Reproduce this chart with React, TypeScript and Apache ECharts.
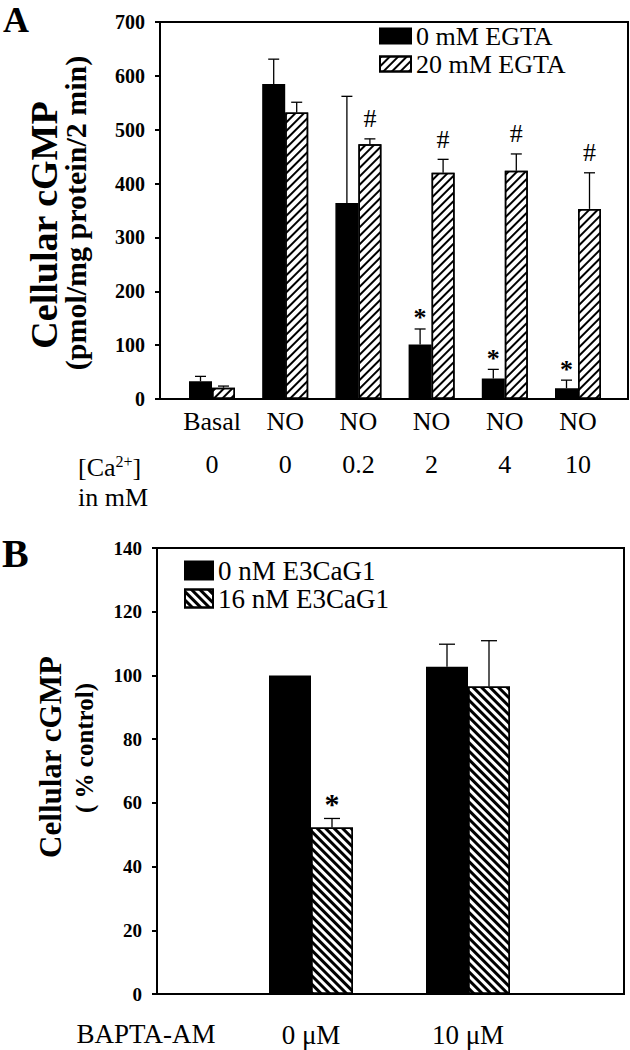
import React, { useEffect, useRef } from "react";
import * as echarts from "echarts";

// ---------- Panel A data ----------
const catsA = ["Basal", "NO", "NO", "NO", "NO", "NO"];
const caA = ["0", "0", "0.2", "2", "4", "10"];
const nameA0 = "0 mM EGTA";
const nameA1 = "20 mM EGTA";
const egta0 = [33, 585, 364, 101, 38, 20];
const egta0Err = [42, 631, 562, 130, 55, 35];
const egta0Mark = ["", "", "", "*", "*", "*"];
const egta20 = [21, 532, 473, 420, 424, 353];
const egta20Err = [24, 551, 483, 445, 455, 420];
const egta20Mark = ["", "", "#", "#", "#", "#"];
const yMinA = 0;
const yMaxA = 700;
const yStepA = 100;

// ---------- Panel B data ----------
const catsB = ["0 μM", "10 μM"];
const nameB0 = "0 nM E3CaG1";
const nameB1 = "16 nM E3CaG1";
const e3cag0 = [100, 102.7];
const e3cag0Err: (number | null)[] = [null, 109.8];
const e3cag0Mark = ["", ""];
const e3cag16 = [52.3, 96.5];
const e3cag16Err: (number | null)[] = [55.1, 110.9];
const e3cag16Mark = ["*", ""];
const yMinB = 0;
const yMaxB = 140;
const yStepB = 20;

const FONT = "'Liberation Serif', 'Times New Roman', serif";

function errSeries(
  values: number[],
  errs: (number | null)[],
  marks: string[],
  offset: number,
  cap: number,
  xAxisIndex: number,
  yAxisIndex: number,
  starFont: string,
  markGapHash: number,
  markGapStar: number
) {
  return {
    type: "custom",
    coordinateSystem: "cartesian2d",
    xAxisIndex,
    yAxisIndex,
    clip: false,
    z: 5,
    silent: true,
    data: values.map((v, i) => [i, v]),
    encode: { x: 0, y: 1 },
    renderItem: (params: any, api: any) => {
      const i = params.dataIndex;
      const x = api.coord([i, 0])[0] + offset;
      const yv = api.coord([i, values[i]])[1];
      const children: any[] = [];
      let top = yv;
      const e = errs[i];
      if (e != null) {
        const ye = api.coord([i, e])[1];
        top = ye;
        children.push({
          type: "line",
          shape: { x1: x, y1: yv, x2: x, y2: ye },
          style: { stroke: "#000", lineWidth: 1.3 },
        });
        children.push({
          type: "line",
          shape: { x1: x - cap, y1: ye, x2: x + cap, y2: ye },
          style: { stroke: "#000", lineWidth: 1.3 },
        });
      }
      const m = marks[i];
      if (m) {
        children.push({
          type: "text",
          x,
          y: top - (m === "#" ? markGapHash : markGapStar),
          style: {
            text: m,
            fill: "#000",
            font: m === "#" ? `26px ${FONT}` : starFont,
            align: "center",
            verticalAlign: "middle",
          },
        });
      }
      return { type: "group", children };
    },
  };
}

export default function App() {
  const ref = useRef<HTMLDivElement>(null);

  useEffect(() => {
    if (!ref.current) return;
    const chart = echarts.init(ref.current, undefined, { renderer: "svg" });

    const decalA = {
      symbol: "rect",
      symbolSize: 1,
      color: "#000",
      backgroundColor: "#fff",
      dashArrayX: [1, 0],
      dashArrayY: [1.6, 3.2],
      rotation: -Math.PI / 4,
    };
    const decalB = {
      symbol: "rect",
      symbolSize: 1,
      color: "#000",
      backgroundColor: "#fff",
      dashArrayX: [1, 0],
      dashArrayY: [2.8, 2.8],
      rotation: Math.PI / 4,
    };

    const tickLabel = (size: number) => ({
      color: "#000",
      fontFamily: FONT,
      fontWeight: "bold",
      fontSize: size,
      margin: 15,
    });

    const option: any = {
      animation: false,
      backgroundColor: "#fff",
      textStyle: { fontFamily: FONT, color: "#000" },
      grid: [
        { left: 160, width: 468, top: 22, height: 377, show: true, borderColor: "#000", borderWidth: 2, backgroundColor: "transparent" },
        { left: 175.4, width: 439.2, top: 22, height: 377 },
        { left: 157, width: 467, top: 548, height: 446, show: true, borderColor: "#000", borderWidth: 2, backgroundColor: "transparent" },
        { left: 232.5, width: 314, top: 548, height: 446 },
      ],
      xAxis: [
        { gridIndex: 0, type: "category", data: catsA, axisLine: { lineStyle: { color: "#000", width: 2 } }, axisTick: { show: false }, axisLabel: { show: false } },
        {
          gridIndex: 1,
          type: "category",
          data: catsA,
          axisLine: { show: false },
          axisTick: { show: false },
          axisLabel: {
            color: "#000",
            fontFamily: FONT,
            fontSize: 26,
            lineHeight: 43,
            margin: 1,
            interval: 0,
            formatter: (v: string, i: number) => `${v}\n${caA[i]}`,
          },
        },
        { gridIndex: 2, type: "category", data: catsB, axisLine: { lineStyle: { color: "#000", width: 2 } }, axisTick: { show: false }, axisLabel: { show: false } },
        {
          gridIndex: 3,
          type: "category",
          data: catsB,
          axisLine: { show: false },
          axisTick: { show: false },
          axisLabel: { color: "#000", fontFamily: FONT, fontSize: 27, margin: 27, interval: 0 },
        },
      ],
      yAxis: [
        {
          gridIndex: 0,
          type: "value",
          min: yMinA,
          max: yMaxA,
          interval: yStepA,
          axisLine: { show: true, lineStyle: { color: "#000", width: 2 } },
          axisTick: { show: true, inside: false, length: 5, lineStyle: { color: "#000", width: 2 } },
          axisLabel: tickLabel(20),
          splitLine: { show: false },
        },
        { gridIndex: 1, type: "value", min: yMinA, max: yMaxA, interval: yStepA, show: false, splitLine: { show: false } },
        {
          gridIndex: 2,
          type: "value",
          min: yMinB,
          max: yMaxB,
          interval: yStepB,
          axisLine: { show: true, lineStyle: { color: "#000", width: 2 } },
          axisTick: { show: true, inside: false, length: 5, lineStyle: { color: "#000", width: 2 } },
          axisLabel: tickLabel(19),
          splitLine: { show: false },
        },
        { gridIndex: 3, type: "value", min: yMinB, max: yMaxB, interval: yStepB, show: false, splitLine: { show: false } },
      ],
      legend: [
        {
          data: [nameA0, nameA1],
          orient: "vertical",
          left: 379,
          top: 23,
          padding: 0,
          itemWidth: 31,
          itemHeight: 15,
          itemGap: 2,
          selectedMode: false,
          icon: "rect",
          textStyle: { fontFamily: FONT, fontSize: 26, color: "#000", lineHeight: 25 },
        },
        {
          data: [nameB0, nameB1],
          orient: "vertical",
          left: 184,
          top: 557,
          padding: 0,
          itemWidth: 28,
          itemHeight: 18,
          itemGap: 1,
          selectedMode: false,
          icon: "rect",
          textStyle: { fontFamily: FONT, fontSize: 27, color: "#000", lineHeight: 27 },
        },
      ],
      series: [
        {
          name: nameA0,
          type: "bar",
          xAxisIndex: 1,
          yAxisIndex: 1,
          data: egta0,
          barWidth: 23,
          barGap: "0%",
          itemStyle: { color: "#000", borderColor: "#000", borderWidth: 1.5 },
        },
        {
          name: nameA1,
          type: "bar",
          xAxisIndex: 1,
          yAxisIndex: 1,
          data: egta20,
          barWidth: 23,
          barGap: "0%",
          itemStyle: { color: "#fff", borderColor: "#000", borderWidth: 1.5, decal: decalA },
        },
        errSeries(egta0, egta0Err, egta0Mark, -11.5, 5.5, 1, 1, `bold 26px ${FONT}`, 20, 11),
        errSeries(egta20, egta20Err, egta20Mark, 11.5, 5.5, 1, 1, `bold 26px ${FONT}`, 20, 11),
        {
          name: nameB0,
          type: "bar",
          xAxisIndex: 3,
          yAxisIndex: 3,
          data: e3cag0,
          barWidth: 42,
          barGap: "0%",
          itemStyle: { color: "#000", borderColor: "#000", borderWidth: 1.5 },
        },
        {
          name: nameB1,
          type: "bar",
          xAxisIndex: 3,
          yAxisIndex: 3,
          data: e3cag16,
          barWidth: 42,
          barGap: "0%",
          itemStyle: { color: "#fff", borderColor: "#000", borderWidth: 1.5, decal: decalB },
        },
        errSeries(e3cag0, e3cag0Err, e3cag0Mark, -21, 8, 3, 3, `bold 30px ${FONT}`, 20, 15),
        errSeries(e3cag16, e3cag16Err, e3cag16Mark, 21, 8, 3, 3, `bold 30px ${FONT}`, 20, 15),
      ],
      graphic: [
        { type: "text", left: 3, top: 2, style: { text: "A", font: `bold 36px ${FONT}`, fill: "#000" } },
        { type: "text", left: 2, top: 533, style: { text: "B", font: `bold 40px ${FONT}`, fill: "#000" } },
        {
          type: "text",
          x: 44,
          y: 225,
          rotation: Math.PI / 2,
          style: { text: "Cellular cGMP", font: `bold 38px ${FONT}`, fill: "#000", align: "center", verticalAlign: "middle" },
        },
        {
          type: "text",
          x: 75,
          y: 213,
          rotation: Math.PI / 2,
          style: { text: "(pmol/mg protein/2 min)", font: `bold 30px ${FONT}`, fill: "#000", align: "center", verticalAlign: "middle" },
        },
        {
          type: "text",
          x: 50,
          y: 757,
          rotation: Math.PI / 2,
          style: { text: "Cellular cGMP", font: `bold 31px ${FONT}`, fill: "#000", align: "center", verticalAlign: "middle" },
        },
        {
          type: "text",
          x: 84,
          y: 748,
          rotation: Math.PI / 2,
          style: { text: "( % control)", font: `bold 25px ${FONT}`, fill: "#000", align: "center", verticalAlign: "middle" },
        },
        {
          type: "text",
          x: 78,
          y: 467,
          style: {
            text: "[Ca{sup|2+}]",
            font: `26px ${FONT}`,
            fill: "#000",
            align: "left",
            verticalAlign: "middle",
            rich: { sup: { fontSize: 16, fontFamily: FONT, verticalAlign: "top", padding: [0, 0, 12, 0] } },
          },
        },
        {
          type: "text",
          x: 78,
          y: 497,
          style: { text: "in mM", font: `26px ${FONT}`, fill: "#000", align: "left", verticalAlign: "middle" },
        },
        {
          type: "text",
          x: 146,
          y: 1034,
          style: { text: "BAPTA-AM", font: `27px ${FONT}`, fill: "#000", align: "center", verticalAlign: "middle" },
        },
      ],
    };

    chart.setOption(option);
    return () => chart.dispose();
  }, []);

  return (
    <div
      ref={ref}
      style={{ position: "absolute", left: 0, top: 0, width: 630, height: 1050, background: "#fff" }}
    />
  );
}
